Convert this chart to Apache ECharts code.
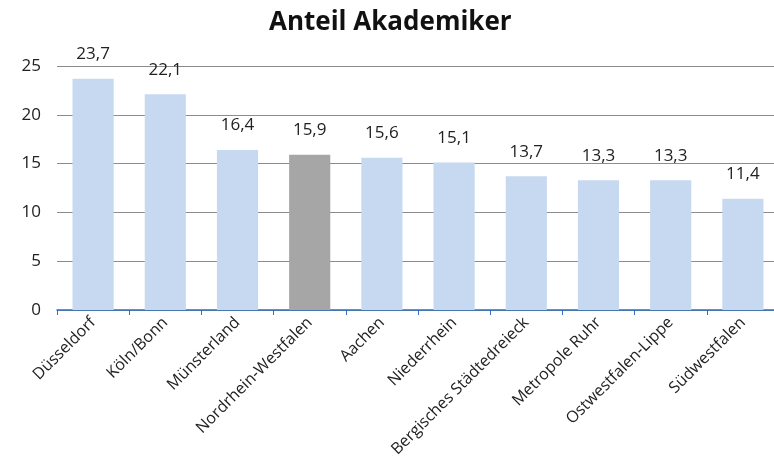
<!DOCTYPE html>
<html>
<head>
<meta charset="utf-8">
<script src="https://cdn.jsdelivr.net/npm/echarts@6/dist/echarts.min.js"></script>
<style>
  html, body { margin: 0; padding: 0; background: #fff; overflow: hidden; }
  #chart { width: 786px; height: 462px; }
</style>
</head>
<body>
<div id="chart"></div>
<script>
// Anteil Akademiker nach Region
var regions = ['Düsseldorf', 'Köln/Bonn', 'Münsterland', 'Nordrhein-Westfalen', 'Aachen',
  'Niederrhein', 'Bergisches Städtedreieck', 'Metropole Ruhr', 'Ostwestfalen-Lippe', 'Südwestfalen'];
var shares = [23.7, 22.1, 16.4, 15.9, 15.6, 15.1, 13.7, 13.3, 13.3, 11.4];
var highlight = 'Nordrhein-Westfalen';

var font = '"Open Sans", "Noto Sans", sans-serif';

// the plot runs past the right edge of the picture, so the canvas is a bit wider than the window
var chart = echarts.init(document.getElementById('chart'));
var option = {
  backgroundColor: '#ffffff',
  animation: false,
  title: {
    text: 'Anteil Akademiker',
    left: 264,
    top: 5,
    textStyle: { fontFamily: font, fontSize: 26, fontWeight: 'bold', color: '#111' }
  },
  grid: { left: 57, right: 7, top: 66, bottom: 152 },
  xAxis: {
    type: 'category',
    data: regions,
    axisLine: { lineStyle: { color: '#2f6fbf', width: 1.5 } },
    axisTick: { show: true, length: 5, lineStyle: { color: '#2f6fbf' } },
    axisLabel: {
      interval: 0,
      rotate: 45,
      margin: 10,
      fontFamily: font,
      fontSize: 16,
      color: '#222'
    }
  },
  yAxis: {
    type: 'value',
    min: 0,
    max: 25,
    interval: 5,
    axisLine: { show: false },
    axisTick: { show: false },
    splitLine: { lineStyle: { color: '#8c8c8c', width: 1 } },
    axisLabel: { fontFamily: font, fontSize: 17, color: '#222', margin: 16 }
  },
  series: [{
    type: 'bar',
    barWidth: '57%',
    data: shares.map(function (v, i) {
      return {
        value: v,
        itemStyle: { color: regions[i] === highlight ? '#a6a6a6' : '#c6d9f0' }
      };
    }),
    label: {
      show: true,
      position: 'top',
      distance: 16,
      fontFamily: font,
      fontSize: 17,
      color: '#222',
      formatter: function (p) { return p.value.toFixed(1).replace('.', ','); }
    }
  }]
};
chart.setOption(option);
</script>
</body>
</html>
